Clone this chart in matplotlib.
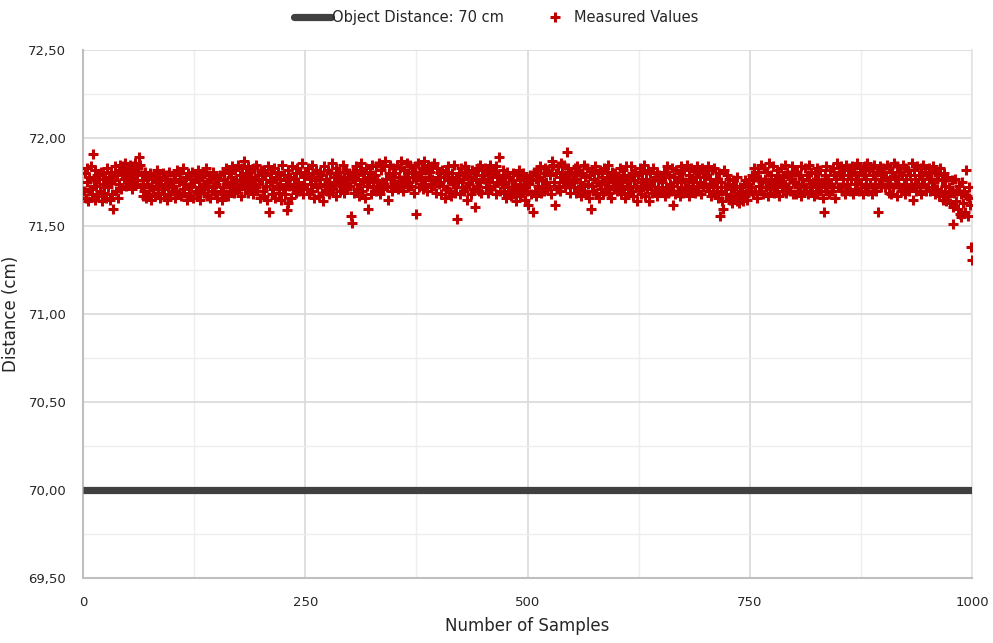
import matplotlib
matplotlib.use("Agg")
import matplotlib.pyplot as plt
from matplotlib.ticker import FuncFormatter, MultipleLocator
from matplotlib.lines import Line2D

# Reference object distance (cm)
object_distance = 70.0

# Measured distances, in hundredths of a cm above 71 cm (samples 1..1000)
measured_base = 71.0
measured_hundredths = [
    70, 80, 66, 75, 83, 64, 78, 71, 84, 68, 91, 76, 65, 82, 73, 79, 67, 77, 70, 81,
    64, 74, 80, 69, 77, 66, 83, 72, 78, 65, 75, 81, 68, 60, 76, 84, 70, 79, 66, 82,
    74, 85, 71, 80, 84, 77, 86, 73, 83, 79,
    82, 75, 85, 78, 71, 84, 80, 86, 74, 81, 76, 83, 89, 85, 72, 79, 67, 76, 70, 81,
    66, 74, 78, 68, 80, 72, 65, 77, 71, 79, 67, 75, 82, 69, 73, 78, 66, 76, 71, 80,
    68, 74, 79, 65, 77, 72, 81, 68, 75, 70,
    73, 79, 66, 77, 70, 82, 68, 75, 80, 67, 76, 71, 83, 69, 74, 78, 65, 80, 72, 67,
    77, 73, 81, 66, 75, 79, 70, 68, 82, 72, 76, 65, 78, 71, 80, 69, 74, 83, 67, 75,
    72, 79, 66, 77, 70, 81, 73, 68, 78, 74,
    66, 76, 58, 79, 70, 65, 81, 72, 77, 68, 83, 74, 67, 80, 73, 78, 70, 84, 75, 69,
    82, 76, 72, 85, 71, 79, 74, 67, 83, 77, 87, 72, 80, 75, 69, 84, 78, 71, 81, 74,
    68, 83, 76, 72, 85, 70, 79, 74, 66, 82,
    77, 70, 82, 67, 79, 73, 65, 84, 58, 76, 80, 68, 75, 71, 83, 66, 78, 73, 81, 69,
    77, 74, 65, 85, 71, 79, 68, 76, 59, 63, 82, 73, 78, 66, 84, 71, 77, 74, 80, 69,
    83, 75, 70, 81, 73, 86, 68, 78, 74, 80,
    79, 71, 83, 68, 77, 74, 85, 70, 80, 66, 76, 82, 72, 78, 67, 81, 74, 79, 69, 64,
    84, 73, 77, 70, 82, 75, 68, 80, 72, 86, 71, 78, 74, 83, 67, 79, 75, 81, 70, 76,
    73, 85, 69, 78, 74, 82, 71, 77, 80, 73,
    56, 77, 52, 81, 69, 76, 84, 71, 79, 67, 82, 74, 86, 70, 77, 80, 66, 83, 73, 78,
    60, 75, 81, 68, 85, 72, 77, 79, 84, 70, 76, 73, 86, 68, 82, 75, 71, 84, 74, 87,
    77, 72, 65, 80, 85, 73, 70, 78, 83, 75,
    80, 74, 85, 71, 78, 83, 73, 87, 76, 70, 82, 77, 74, 86, 72, 80, 75, 85, 73, 81,
    78, 69, 84, 76, 57, 79, 86, 72, 80, 77, 83, 71, 87, 76, 74, 82, 70, 85, 78, 81,
    72, 84, 77, 73, 86, 75, 69, 83, 78, 74,
    75, 80, 68, 82, 73, 78, 66, 81, 71, 77, 84, 70, 76, 67, 80, 74, 85, 69, 78, 72,
    54, 75, 80, 68, 83, 72, 77, 70, 79, 84, 73, 65, 81, 74, 78, 68, 82, 76, 71, 80,
    61, 77, 73, 83, 70, 85, 75, 69, 79, 82,
    77, 83, 72, 81, 69, 79, 75, 85, 71, 78, 82, 73, 80, 68, 84, 75, 79, 89, 70, 77,
    74, 82, 69, 79, 75, 66, 81, 72, 78, 70, 67, 76, 71, 80, 68, 74, 64, 79, 70, 82,
    67, 76, 72, 69, 80, 73, 65, 78, 70, 75,
    62, 74, 79, 68, 76, 58, 81, 70, 77, 67, 82, 73, 78, 84, 69, 76, 72, 80, 70, 83,
    75, 71, 82, 73, 79, 68, 84, 87, 85, 75, 62, 80, 71, 84, 73, 78, 70, 86, 81, 75,
    85, 72, 79, 92, 74, 83, 77, 69, 81, 75,
    79, 72, 83, 69, 77, 84, 71, 81, 75, 67, 80, 73, 85, 70, 78, 68, 83, 74, 66, 79,
    60, 73, 82, 70, 77, 84, 69, 75, 80, 66, 74, 82, 71, 78, 68, 83, 75, 70, 80, 73,
    85, 69, 77, 66, 81, 75, 71, 80, 72, 78,
    70, 78, 73, 83, 68, 76, 82, 71, 79, 66, 84, 75, 69, 78, 73, 84, 70, 80, 67, 76,
    81, 72, 64, 79, 71, 83, 68, 75, 80, 72, 85, 67, 77, 71, 82, 74, 64, 80, 73, 69,
    83, 76, 70, 78, 67, 81, 72, 79, 70, 77,
    75, 70, 81, 67, 78, 72, 84, 69, 79, 74, 70, 83, 73, 62, 78, 68, 82, 75, 70, 80,
    67, 84, 72, 77, 69, 82, 75, 70, 85, 73, 79, 67, 77, 83, 71, 75, 82, 69, 78, 73,
    84, 70, 80, 75, 68, 83, 72, 78, 81, 74,
    79, 72, 84, 70, 77, 67, 82, 74, 70, 83, 68, 77, 72, 66, 80, 56, 75, 70, 64, 60,
    82, 72, 68, 79, 74, 66, 77, 65, 71, 63, 76, 69, 67, 73, 64, 78, 68, 63, 72, 66,
    70, 64, 74, 67, 76, 69, 65, 73, 77, 70,
    72, 79, 68, 76, 83, 70, 78, 66, 81, 73, 77, 85, 70, 75, 68, 83, 77, 72, 81, 67,
    75, 86, 71, 79, 73, 84, 69, 77, 74, 82, 70, 79, 67, 75, 83, 72, 78, 70, 85, 74,
    69, 81, 72, 79, 70, 77, 84, 68, 75, 81,
    75, 68, 81, 72, 79, 70, 84, 67, 77, 74, 70, 83, 72, 79, 68, 76, 85, 72, 81, 70,
    75, 67, 80, 73, 83, 68, 77, 72, 82, 70, 75, 66, 58, 79, 72, 84, 70, 77, 68, 82,
    74, 70, 83, 72, 79, 66, 77, 86, 72, 81,
    79, 72, 84, 70, 77, 82, 68, 85, 74, 79, 71, 83, 70, 77, 84, 68, 81, 74, 79, 71,
    86, 77, 70, 83, 74, 81, 68, 79, 84, 72, 77, 86, 70, 82, 74, 83, 68, 79, 72, 85,
    77, 70, 81, 58, 74, 84, 72, 79, 76, 83,
    81, 72, 78, 85, 74, 69, 83, 77, 68, 81, 72, 86, 78, 74, 67, 84, 77, 72, 81, 70,
    79, 85, 74, 68, 83, 77, 71, 82, 70, 79, 74, 86, 72, 65, 82, 77, 70, 84, 74, 79,
    72, 83, 68, 77, 85, 74, 81, 70, 79, 72,
    77, 83, 70, 80, 72, 84, 75, 68, 82, 77, 71, 79, 67, 83, 70, 76, 65, 80, 68, 73,
    64, 78, 67, 72, 63, 70, 76, 61, 51, 69, 77, 64, 70, 60, 73, 57, 68, 55, 75, 63,
    70, 58, 82, 67, 56, 72, 66, 62, 38, 31,
]

x_ticks = [0, 250, 500, 750, 1000]
y_ticks = [69.5, 70.0, 70.5, 71.0, 71.5, 72.0, 72.5]

samples = list(range(1, len(measured_hundredths) + 1))
measured = [measured_base + v / 100.0 for v in measured_hundredths]

fig = plt.figure(figsize=(9.93, 6.43), dpi=100)
ax = fig.add_axes([0.0836, 0.101, 0.8954, 0.821])

# Reference line and measurement scatter
ax.plot([0, 1000], [object_distance, object_distance],
        color="#404040", lw=5.2, solid_capstyle="butt", zorder=3)
ax.plot(samples, measured, linestyle="none", marker="+", markersize=7.5,
        markeredgewidth=2.2, color="#C00000", zorder=4)

ax.set_xlim(0, 1000)
ax.set_ylim(69.5, 72.5)
ax.set_xticks(x_ticks)
ax.set_yticks(y_ticks)
ax.xaxis.set_minor_locator(MultipleLocator(125))
ax.yaxis.set_minor_locator(MultipleLocator(0.25))
ax.yaxis.set_major_formatter(FuncFormatter(lambda v, p: f"{v:.2f}".replace(".", ",")))

ax.grid(True, which="major", color="#D9D9D9", lw=1.2, zorder=0)
ax.grid(True, which="minor", color="#EEEEEE", lw=1.0, zorder=0)
ax.set_axisbelow(True)

ax.spines["top"].set_visible(False)
ax.spines["right"].set_color("#E3E3E3")
ax.spines["right"].set_linewidth(1.2)
for side in ("left", "bottom"):
    ax.spines[side].set_color("#BFBFBF")
    ax.spines[side].set_linewidth(1.5)

ax.tick_params(which="both", length=0)
ax.tick_params(axis="y", labelsize=9.5, pad=12, colors="#262626")
ax.tick_params(axis="x", labelsize=9.5, pad=13, colors="#262626")

ax.set_xlabel("Number of Samples", fontsize=12, color="#262626", labelpad=6)
ax.set_ylabel("Distance (cm)", fontsize=12, color="#262626", labelpad=6)

handles = [
    Line2D([], [], color="#404040", lw=5.2, solid_capstyle="round"),
    Line2D([], [], linestyle="none", marker="+", markersize=7.5,
           markeredgewidth=2.2, color="#C00000"),
]
fig.legend(handles, ["Object Distance: 70 cm", "Measured Values"],
           loc="center", bbox_to_anchor=(0.5, 0.973), ncol=2, frameon=False,
           fontsize=10.5, handlelength=2.5, handletextpad=0.05, columnspacing=2.3,
           labelcolor="#262626")

fig.savefig("out.png", dpi=100)
